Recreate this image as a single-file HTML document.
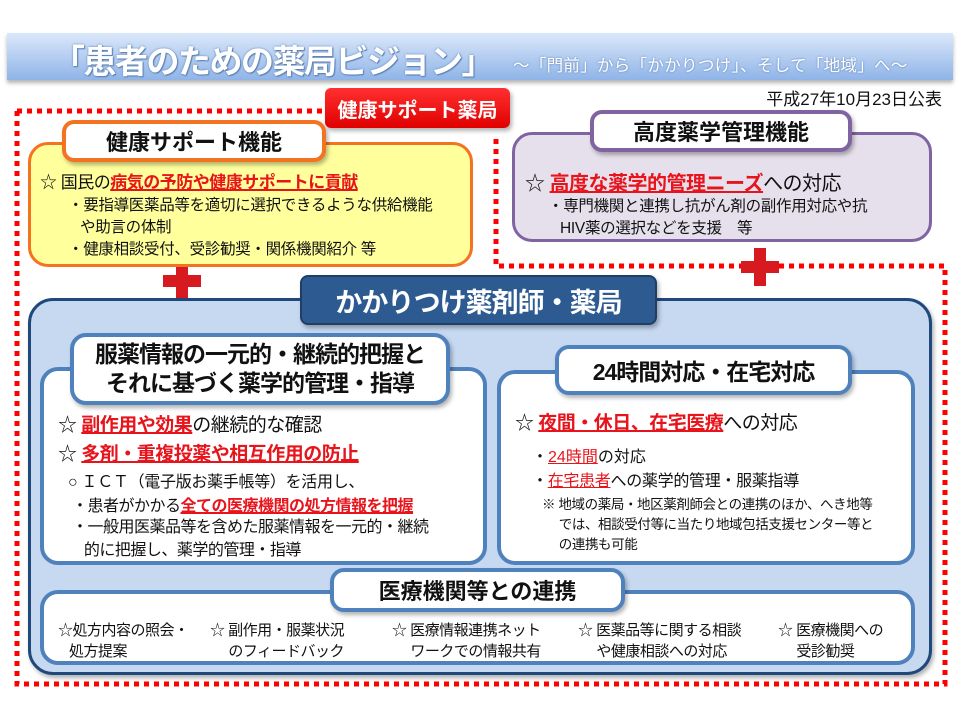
<!DOCTYPE html>
<html><head><meta charset="utf-8"><style>
*{margin:0;padding:0;box-sizing:border-box}
body{width:960px;height:720px;background:#fff;position:relative;overflow:hidden;font-family:"Liberation Sans","Noto Sans CJK JP",sans-serif;color:#111}
.a{position:absolute}
.r{color:#e8141b;font-weight:bold;text-decoration:underline;text-decoration-thickness:1.5px}
.rn{color:#e8141b;text-decoration:underline}
.lbl{position:absolute;background:#fff;display:flex;align-items:center;justify-content:center;font-weight:bold;text-align:center;box-shadow:2px 3px 4px rgba(0,0,0,.3);white-space:nowrap}
.t{position:absolute;white-space:nowrap}
</style></head><body>
<div class="a" style="left:7px;top:33px;width:946px;height:47px;background:linear-gradient(#dbe8fa,#8fb4e8);box-shadow:0 3px 4px rgba(0,0,0,.3)"></div>
<div class="t" style="left:52px;top:35px;font-size:33px;letter-spacing:-1.5px;color:#fff;font-weight:bold;text-shadow:0 0 2px #5a7fb0,1px 1px 1px #5a7fb0">「患者のための薬局ビジョン」</div>
<div class="t" style="left:513px;top:52px;font-size:16.5px;letter-spacing:0.3px;color:#fff;text-shadow:0 0 2px #5a7fb0">～「門前」から「かかりつけ」、そして「地域」へ～</div>
<div class="t" style="right:18px;top:85px;font-size:17px">平成27年10月23日公表</div>

<svg class="a" style="left:0;top:0" width="960" height="720">
<g stroke="#f00" stroke-width="5" stroke-dasharray="5 5" fill="none">
<path d="M17 111 H325"/>
<path d="M17 111 V684 H945 V266 H496 V137"/>
</g>
<g fill="#d71920">
<rect x="176" y="262" width="12" height="38"/><rect x="163" y="275" width="38" height="12"/>
<rect x="754" y="248" width="12" height="38"/><rect x="741" y="261" width="38" height="12"/>
</g>
</svg>

<div class="lbl" style="left:325px;top:88px;width:185px;height:40px;background:linear-gradient(#ff3030,#e00000);color:#fff;font-size:20px;border-radius:6px">健康サポート薬局</div>

<div class="a" style="left:28px;top:142px;width:445px;height:125px;background:#ffff9c;border:3px solid #f47320;border-radius:20px"></div>
<div class="lbl" style="left:62px;top:120px;width:264px;height:42px;border:4px solid #f47320;border-radius:12px;font-size:22px">健康サポート機能</div>
<div class="t" style="left:40px;top:168px;font-size:17px;letter-spacing:-0.5px">☆ 国民の<span class="r">病気の予防や健康サポートに貢献</span></div>
<div class="t" style="left:68px;top:195px;font-size:15.5px;line-height:22px;letter-spacing:-0.3px">・要指導医薬品等を適切に選択できるような供給機能<br>&nbsp;&nbsp;&nbsp;や助言の体制<br>・健康相談受付、受診勧奨・関係機関紹介 等</div>

<div class="a" style="left:512px;top:132px;width:420px;height:110px;background:#e6e0ec;border:3px solid #8064a2;border-radius:20px"></div>
<div class="lbl" style="left:590px;top:110px;width:262px;height:42px;border:4px solid #8064a2;border-radius:12px;font-size:22px">高度薬学管理機能</div>
<div class="t" style="left:525px;top:167px;font-size:20px;letter-spacing:-0.5px">☆ <span class="r">高度な薬学的管理ニーズ</span>への対応</div>
<div class="t" style="left:548px;top:196px;font-size:15.5px;line-height:22px;letter-spacing:-0.3px">・専門機関と連携し抗がん剤の副作用対応や抗<br>&nbsp;&nbsp;&nbsp;HIV薬の選択などを支援　等</div>

<div class="a" style="left:28px;top:298px;width:904px;height:377px;background:#c6d9f1;border:3px solid #1f497d;border-radius:25px;box-shadow:2px 3px 4px rgba(0,0,0,.3)"></div>
<div class="lbl" style="left:300px;top:275px;width:357px;height:50px;background:#2c5a91;color:#fff;font-size:27px;border-radius:8px;border:2px solid #1f3f66;letter-spacing:-1px">かかりつけ薬剤師・薬局</div>

<div class="a" style="left:40px;top:367px;width:447px;height:198px;background:#fff;border:4px solid #4f81bd;border-radius:18px"></div>
<div class="lbl" style="left:70px;top:333px;width:380px;height:72px;border:4px solid #4f81bd;border-radius:16px;font-size:23px;line-height:29px;letter-spacing:-1px">服薬情報の一元的・継続的把握と<br>それに基づく薬学的管理・指導</div>
<div class="t" style="left:58px;top:410px;font-size:19px;letter-spacing:-0.5px">☆ <span class="r">副作用や効果</span>の継続的な確認</div>
<div class="t" style="left:58px;top:439px;font-size:19px;letter-spacing:-0.5px">☆ <span class="r">多剤・重複投薬や相互作用の防止</span></div>
<div class="t" style="left:68px;top:468px;font-size:16px;letter-spacing:-0.3px">○ ＩＣＴ（電子版お薬手帳等）を活用し、</div>
<div class="t" style="left:72px;top:492px;font-size:16px;letter-spacing:-0.5px">・患者がかかる<span class="r">全ての医療機関の処方情報を把握</span></div>
<div class="t" style="left:72px;top:516px;font-size:16px;line-height:23px;letter-spacing:-0.5px">・一般用医薬品等を含めた服薬情報を一元的・継続<br>&nbsp;&nbsp;&nbsp;的に把握し、薬学的管理・指導</div>

<div class="a" style="left:497px;top:370px;width:418px;height:195px;background:#fff;border:4px solid #4f81bd;border-radius:18px"></div>
<div class="lbl" style="left:555px;top:345px;width:297px;height:50px;border:4px solid #4f81bd;border-radius:14px;font-size:23px;letter-spacing:-1px">24時間対応・在宅対応</div>
<div class="t" style="left:515px;top:408px;font-size:19px;letter-spacing:-0.5px">☆ <span class="r">夜間・休日、在宅医療</span>への対応</div>
<div class="t" style="left:532px;top:443px;font-size:16px">・<span class="rn">24時間</span>の対応</div>
<div class="t" style="left:532px;top:467px;font-size:16px;letter-spacing:-0.3px">・<span class="rn">在宅患者</span>への薬学的管理・服薬指導</div>
<div class="t" style="left:542px;top:495px;font-size:13.5px;line-height:20px;letter-spacing:-0.4px">※ 地域の薬局・地区薬剤師会との連携のほか、へき地等<br>&nbsp;&nbsp;&nbsp;&nbsp;&nbsp;では、相談受付等に当たり地域包括支援センター等と<br>&nbsp;&nbsp;&nbsp;&nbsp;&nbsp;の連携も可能</div>

<div class="a" style="left:40px;top:590px;width:875px;height:75px;background:#fff;border:4px solid #4f81bd;border-radius:18px"></div>
<div class="lbl" style="left:330px;top:568px;width:295px;height:44px;border:4px solid #4f81bd;border-radius:14px;font-size:22px">医療機関等との連携</div>
<div class="t" style="left:58px;top:620px;font-size:15px;line-height:21px;letter-spacing:-0.5px">☆処方内容の照会・<br>&nbsp;&nbsp;&nbsp;処方提案</div>
<div class="t" style="left:210px;top:620px;font-size:15px;line-height:21px;letter-spacing:-0.5px">☆ 副作用・服薬状況<br>&nbsp;&nbsp;&nbsp;&nbsp;&nbsp;のフィードバック</div>
<div class="t" style="left:392px;top:620px;font-size:15px;line-height:21px;letter-spacing:-0.5px">☆ 医療情報連携ネット<br>&nbsp;&nbsp;&nbsp;&nbsp;&nbsp;ワークでの情報共有</div>
<div class="t" style="left:578px;top:620px;font-size:15px;line-height:21px;letter-spacing:-0.5px">☆ 医薬品等に関する相談<br>&nbsp;&nbsp;&nbsp;&nbsp;&nbsp;や健康相談への対応</div>
<div class="t" style="left:778px;top:620px;font-size:15px;line-height:21px;letter-spacing:-0.5px">☆ 医療機関への<br>&nbsp;&nbsp;&nbsp;&nbsp;&nbsp;受診勧奨</div>
</body></html>
